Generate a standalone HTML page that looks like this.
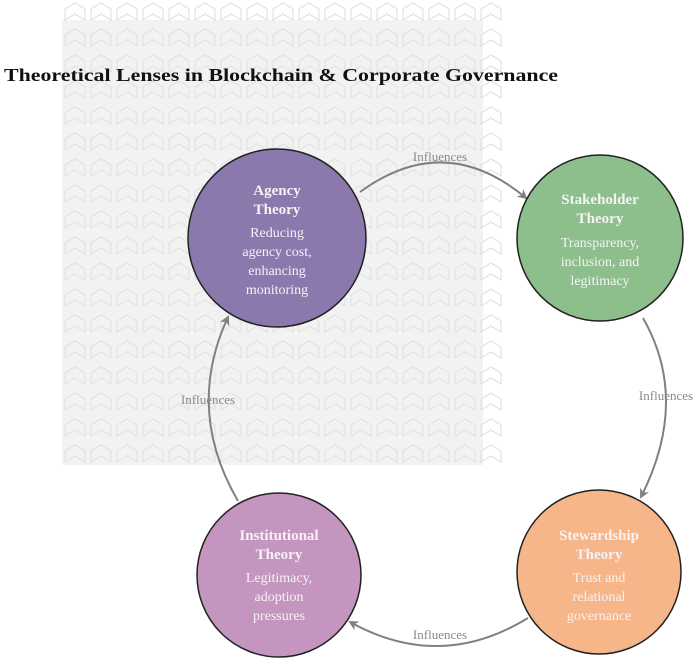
<!DOCTYPE html>
<html><head><meta charset="utf-8"><style>
html,body{margin:0;padding:0;background:#fff;}
svg{display:block;font-family:"Liberation Serif",serif;}
</style></head><body>
<svg width="699" height="663" viewBox="0 0 699 663" xmlns="http://www.w3.org/2000/svg">
<defs>
<pattern id="p" x="62" y="0" width="26" height="26" patternUnits="userSpaceOnUse">
<path d="M3 20 L3 9 L13 3 L23 9 L23 20 L13 14 Z" fill="none" stroke="#e2e2e2" stroke-width="1.2"/>
</pattern>
<marker id="a" viewBox="0 0 10 10" refX="8" refY="5" markerWidth="5" markerHeight="5" orient="auto">
<path d="M0 0 L10 5 L0 10 L3 5 Z" fill="#808080"/>
</marker>
</defs>
<rect x="62" y="20" width="421" height="445" fill="#f2f2f2"/>
<rect x="62" y="0" width="443" height="465" fill="url(#p)"/>
<text x="4" y="81" font-size="18" font-weight="bold" fill="#111" textLength="554" lengthAdjust="spacingAndGlyphs">Theoretical Lenses in Blockchain &amp; Corporate Governance</text>

<g fill="none" stroke="#808080" stroke-width="2" marker-end="url(#a)">
<path d="M360 192 Q445 130 526 198"/>
<path d="M643 318 Q690 400 641 497"/>
<path d="M528 618 Q440 672 350 622"/>
<path d="M238 501 Q185 410 228 317"/>
</g>
<g font-size="13" fill="#8a8a8a" text-anchor="middle">
<text x="440" y="161">Influences</text>
<text x="666" y="400">Influences</text>
<text x="440" y="639">Influences</text>
<text x="208" y="404">Influences</text>
</g>

<g stroke="#222" stroke-width="1.5">
<circle cx="277" cy="238" r="89" fill="#8b78ad"/>
<circle cx="600" cy="238" r="83" fill="#8dbf8c"/>
<circle cx="599" cy="572" r="82" fill="#f6b68a"/>
<circle cx="279" cy="575" r="82" fill="#c495bf"/>
</g>
<g fill="#f6f2f6" text-anchor="middle">
<g font-size="15" font-weight="bold">
<text x="277" y="195">Agency</text><text x="277" y="214">Theory</text>
<text x="600" y="204">Stakeholder</text><text x="600" y="223">Theory</text>
<text x="599" y="540">Stewardship</text><text x="599" y="559">Theory</text>
<text x="279" y="540">Institutional</text><text x="279" y="559">Theory</text>
</g>
<g font-size="14">
<text x="277" y="237">Reducing</text><text x="277" y="256">agency cost,</text><text x="277" y="275">enhancing</text><text x="277" y="294">monitoring</text>
<text x="600" y="247">Transparency,</text><text x="600" y="266">inclusion, and</text><text x="600" y="285">legitimacy</text>
<text x="599" y="582">Trust and</text><text x="599" y="601">relational</text><text x="599" y="620">governance</text>
<text x="279" y="582">Legitimacy,</text><text x="279" y="601">adoption</text><text x="279" y="620">pressures</text>
</g>
</g>
</svg>
</body></html>
